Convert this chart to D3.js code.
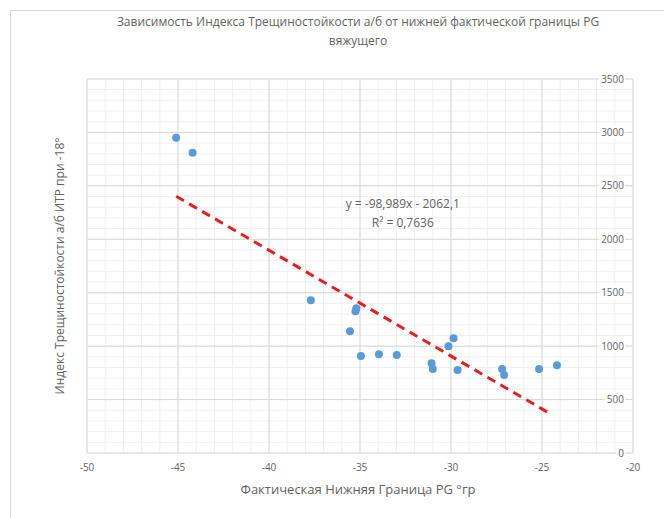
<!DOCTYPE html>
<html>
<head>
<meta charset="utf-8">
<script src="https://cdn.jsdelivr.net/npm/d3@7"></script>
<style>
  body { margin: 0; background: #fff; }
  text { font-family: "Open Sans", "Noto Sans", sans-serif; fill: #636363; }
</style>
</head>
<body>
<div id="chart"></div>
<script>
// Data
const pgLow = [-45.1, -44.2, -37.7, -35.2, -35.25, -35.55, -34.95, -33.96, -32.98, -31.07, -31.0, -30.14, -29.86, -29.64, -27.19, -27.08, -25.16, -24.18];
const crackIndex = [2950, 2810, 1430, 1355, 1327, 1140, 907, 925, 916, 841, 785, 1000, 1075, 776, 785, 729, 785, 822];
const trendSlope = -98.989;
const trendIntercept = -2062.1;
const trendRange = [-45.1, -24.6];
const xTicks = [-50, -45, -40, -35, -30, -25, -20];
const yTicks = [0, 500, 1000, 1500, 2000, 2500, 3000, 3500];

const titleLines = ['Зависимость Индекса Трещиностойкости а/б от нижней фактической границы PG', 'вяжущего'];
const xTitle = 'Фактическая Нижняя Граница PG °гр';
const yTitle = 'Индекс Трещиностойкости а/б ИТР при -18°';
const eqText = ['y = -98,989x - 2062,1', 'R² = 0,7636'];

const W = 664, H = 518;
const margin = { top: 79, right: 31, bottom: 65, left: 87 };
const width = W - margin.left - margin.right;
const height = H - margin.top - margin.bottom;

const svg = d3.select('#chart').append('svg').attr('width', W).attr('height', H);

// chart border
svg.append('rect')
  .attr('x', 10.5).attr('y', 10.5).attr('width', 700).attr('height', 600)
  .attr('fill', 'none').attr('stroke', '#d9d9d9');

const g = svg.append('g').attr('transform', 'translate(' + margin.left + ',' + margin.top + ')');

const x = d3.scaleLinear().domain([-50, -20]).range([0, width]);
const y = d3.scaleLinear().domain([0, 3500]).range([height, 0]);

// minor grid
g.append('g').selectAll('line').data(d3.range(-50, -19, 1)).join('line')
  .attr('x1', d => x(d)).attr('x2', d => x(d)).attr('y1', 0).attr('y2', height)
  .attr('stroke', '#efefef');
g.append('g').selectAll('line').data(d3.range(0, 3501, 100)).join('line')
  .attr('y1', d => y(d)).attr('y2', d => y(d)).attr('x1', 0).attr('x2', width)
  .attr('stroke', '#efefef');

// major grid
g.append('g').selectAll('line').data(xTicks).join('line')
  .attr('x1', d => x(d)).attr('x2', d => x(d)).attr('y1', 0).attr('y2', height)
  .attr('stroke', '#d9d9d9');
g.append('g').selectAll('line').data(yTicks).join('line')
  .attr('y1', d => y(d)).attr('y2', d => y(d)).attr('x1', 0).attr('x2', width)
  .attr('stroke', '#d9d9d9');

// x tick labels
g.append('g').selectAll('text').data(xTicks).join('text')
  .attr('x', d => x(d)).attr('y', height + 18)
  .attr('text-anchor', 'middle').attr('font-size', 10)
  .text(d => d);

// y tick labels (axis crosses at x = -20, labels inside plot with white background)
const yLab = g.append('g').selectAll('g').data(yTicks).join('g')
  .attr('transform', d => 'translate(' + (width - 9) + ',' + y(d) + ')');
yLab.append('text')
  .attr('text-anchor', 'end').attr('dy', '0.35em').attr('font-size', 10)
  .text(d => d);
yLab.insert('rect', 'text').each(function () {
  const b = this.parentNode.querySelector('text').getBBox();
  d3.select(this).attr('x', b.x - 2).attr('y', b.y).attr('width', b.width + 3).attr('height', b.height).attr('fill', '#fff');
});

// trendline
const line = d3.line().x(d => x(d)).y(d => y(trendSlope * d + trendIntercept));
g.append('path').datum(trendRange)
  .attr('d', line)
  .attr('fill', 'none').attr('stroke', '#e3201f').attr('stroke-width', 3)
  .attr('stroke-dasharray', '9,6');

// points
g.append('g').selectAll('circle').data(pgLow).join('circle')
  .attr('cx', d => x(d)).attr('cy', (d, i) => y(crackIndex[i]))
  .attr('r', 4).attr('fill', '#5b9bd5');

// equation
g.append('g').selectAll('text').data(eqText).join('text')
  .attr('x', x(-32.65)).attr('y', (d, i) => y(2300) + 1 + i * 19)
  .attr('text-anchor', 'middle').attr('font-size', 12)
  .text(d => d);

// titles
svg.append('g').selectAll('text').data(titleLines).join('text')
  .attr('x', margin.left + width / 2 - 2).attr('y', (d, i) => 26 + i * 19)
  .attr('text-anchor', 'middle').attr('font-size', 12)
  .text(d => d);

svg.append('text')
  .attr('x', margin.left + width / 2 - 2).attr('y', 494)
  .attr('text-anchor', 'middle').attr('font-size', 13)
  .text(xTitle);

svg.append('text')
  .attr('transform', 'translate(64,' + (margin.top + height / 2) + ') rotate(-90)')
  .attr('text-anchor', 'middle').attr('font-size', 12)
  .text(yTitle);
</script>
</body>
</html>
